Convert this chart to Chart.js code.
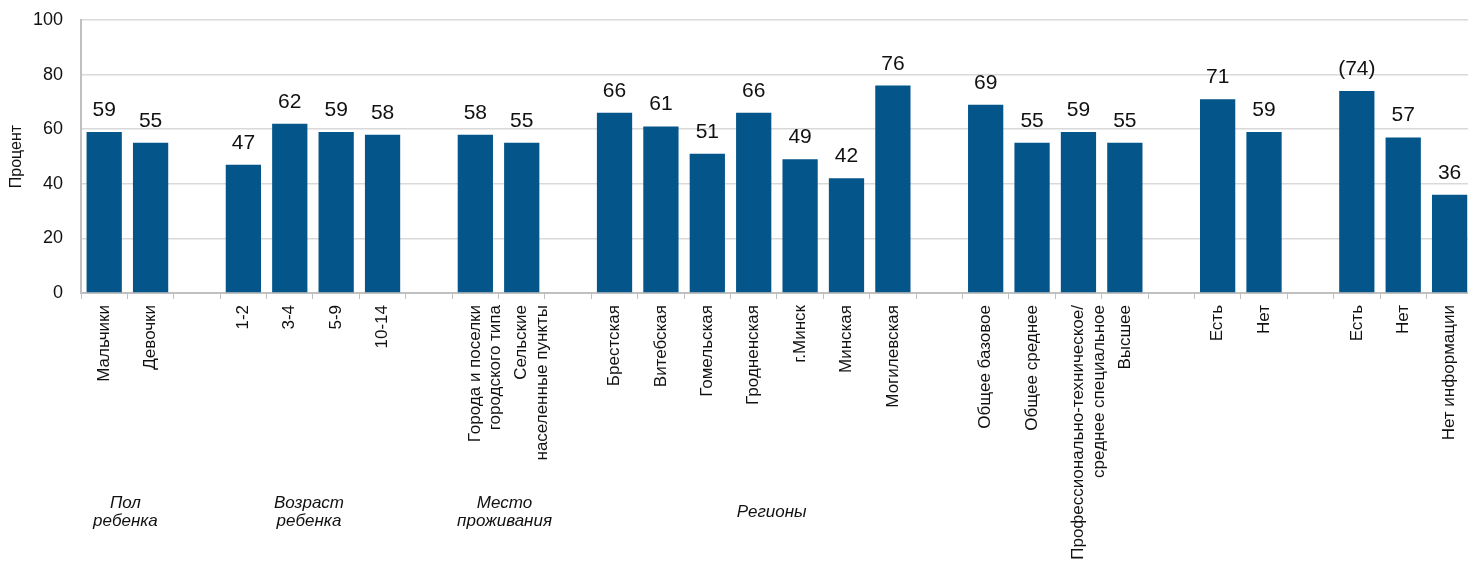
<!DOCTYPE html>
<html>
<head>
    <title>Процент по группам</title>
    <script src="https://cdn.jsdelivr.net/npm/chart.js"></script>
    <style>
        body {
            margin: 0;
            padding: 0;
            background: #fff;
            overflow: hidden;
        }
        .wrap {
            width: 1476px;
            height: 561px;
        }
    </style>
</head>
<body>
    <div class="wrap">
        <canvas id="barChart"></canvas>
    </div>

    <script>
        // categories (empty strings are the gaps between groups)
        const categories = [
            'Мальчики', 'Девочки', '',
            '1-2', '3-4', '5-9', '10-14', '',
            ['Города и поселки', 'городского типа'], ['Сельские', 'населенные пункты'], '',
            'Брестская', 'Витебская', 'Гомельская', 'Гродненская', 'г.Минск', 'Минская', 'Могилевская', '',
            'Общее базовое', 'Общее среднее', ['Профессионально-техническое/', 'среднее специальное'], 'Высшее', '',
            'Есть', 'Нет', '',
            'Есть', 'Нет', 'Нет информации'
        ];
        const values = [
            59, 55, null,
            47, 62, 59, 58, null,
            58, 55, null,
            66, 61, 51, 66, 49, 42, 76, null,
            69, 55, 59, 55, null,
            71, 59, null,
            74, 57, 36
        ];
        const valueLabels = [
            '59', '55', '',
            '47', '62', '59', '58', '',
            '58', '55', '',
            '66', '61', '51', '66', '49', '42', '76', '',
            '69', '55', '59', '55', '',
            '71', '59', '',
            '(74)', '57', '36'
        ];
        const yTicks = [0, 20, 40, 60, 80, 100];

        // group captions and the category indexes they span
        const groupLabels = [['Пол', 'ребенка'], ['Возраст', 'ребенка'], ['Место', 'проживания'], ['Регионы']];
        const groupSpans = [[0, 1], [3, 6], [8, 9], [11, 17]];

        const FONT = "'Liberation Sans', Arial, sans-serif";

        // value labels above bars
        const valueLabelPlugin = {
            id: 'valueLabels',
            afterDatasetsDraw(chart) {
                const ctx = chart.ctx;
                const meta = chart.getDatasetMeta(0);
                ctx.save();
                ctx.font = '21px ' + FONT;
                ctx.fillStyle = '#111';
                ctx.textAlign = 'center';
                ctx.textBaseline = 'alphabetic';
                meta.data.forEach(function(bar, i) {
                    if (values[i] == null) return;
                    ctx.fillText(valueLabels[i], bar.x, bar.y - 16);
                });
                ctx.restore();
            }
        };

        // italic group captions under the axis labels
        const groupLabelPlugin = {
            id: 'groupLabels',
            afterDraw(chart) {
                const ctx = chart.ctx;
                const x = chart.scales.x;
                const shift = [-2, -4, 6, 18];
                const center = chart.chartArea.bottom + 219;
                ctx.save();
                ctx.font = 'italic 17px ' + FONT;
                ctx.fillStyle = '#111';
                ctx.textAlign = 'center';
                ctx.textBaseline = 'middle';
                groupLabels.forEach(function(lines, g) {
                    const cx = (x.getPixelForValue(groupSpans[g][0]) + x.getPixelForValue(groupSpans[g][1])) / 2 + shift[g];
                    lines.forEach(function(line, j) {
                        ctx.fillText(line, cx, center + (j - (lines.length - 1) / 2) * 18);
                    });
                });
                ctx.restore();
            }
        };

        const ctx = document.getElementById('barChart').getContext('2d');
        const barChart = new Chart(ctx, {
            type: 'bar',
            data: {
                labels: categories,
                datasets: [{
                    data: values,
                    backgroundColor: '#03558a',
                    categoryPercentage: 1,
                    barPercentage: 0.76
                }]
            },
            options: {
                responsive: true,
                maintainAspectRatio: false,
                animation: false,
                layout: { padding: { top: 20, left: 0, right: 0, bottom: 0 } },
                plugins: {
                    legend: { display: false },
                    tooltip: { enabled: false }
                },
                scales: {
                    x: {
                        grid: {
                            drawOnChartArea: false,
                            offset: true,
                            tickLength: 6,
                            color: '#c0c0c0'
                        },
                        border: { color: '#c0c0c0', width: 2 },
                        ticks: {
                            autoSkip: false,
                            minRotation: 90,
                            maxRotation: 90,
                            padding: 6,
                            color: '#111',
                            font: { family: FONT, size: 17 }
                        },
                        afterFit(scale) { scale.height = 268; }
                    },
                    y: {
                        min: 0,
                        max: 100,
                        afterBuildTicks(scale) {
                            scale.ticks = yTicks.map(v => ({ value: v }));
                        },
                        grid: { color: '#d9d9d9', drawTicks: false, lineWidth: 1.5 },
                        border: { color: '#c0c0c0', width: 2 },
                        ticks: {
                            padding: 18,
                            color: '#111',
                            font: { family: FONT, size: 18 }
                        },
                        title: {
                            display: true,
                            text: 'Процент',
                            color: '#111',
                            padding: { top: 7, bottom: 0 },
                            font: { family: FONT, size: 16 }
                        },
                        afterFit(scale) {
                            scale.width = 81;
                            scale.paddingTop = 0;
                            scale.paddingBottom = 0;
                        }
                    }
                }
            },
            plugins: [valueLabelPlugin, groupLabelPlugin]
        });
    </script>
</body>
</html>
